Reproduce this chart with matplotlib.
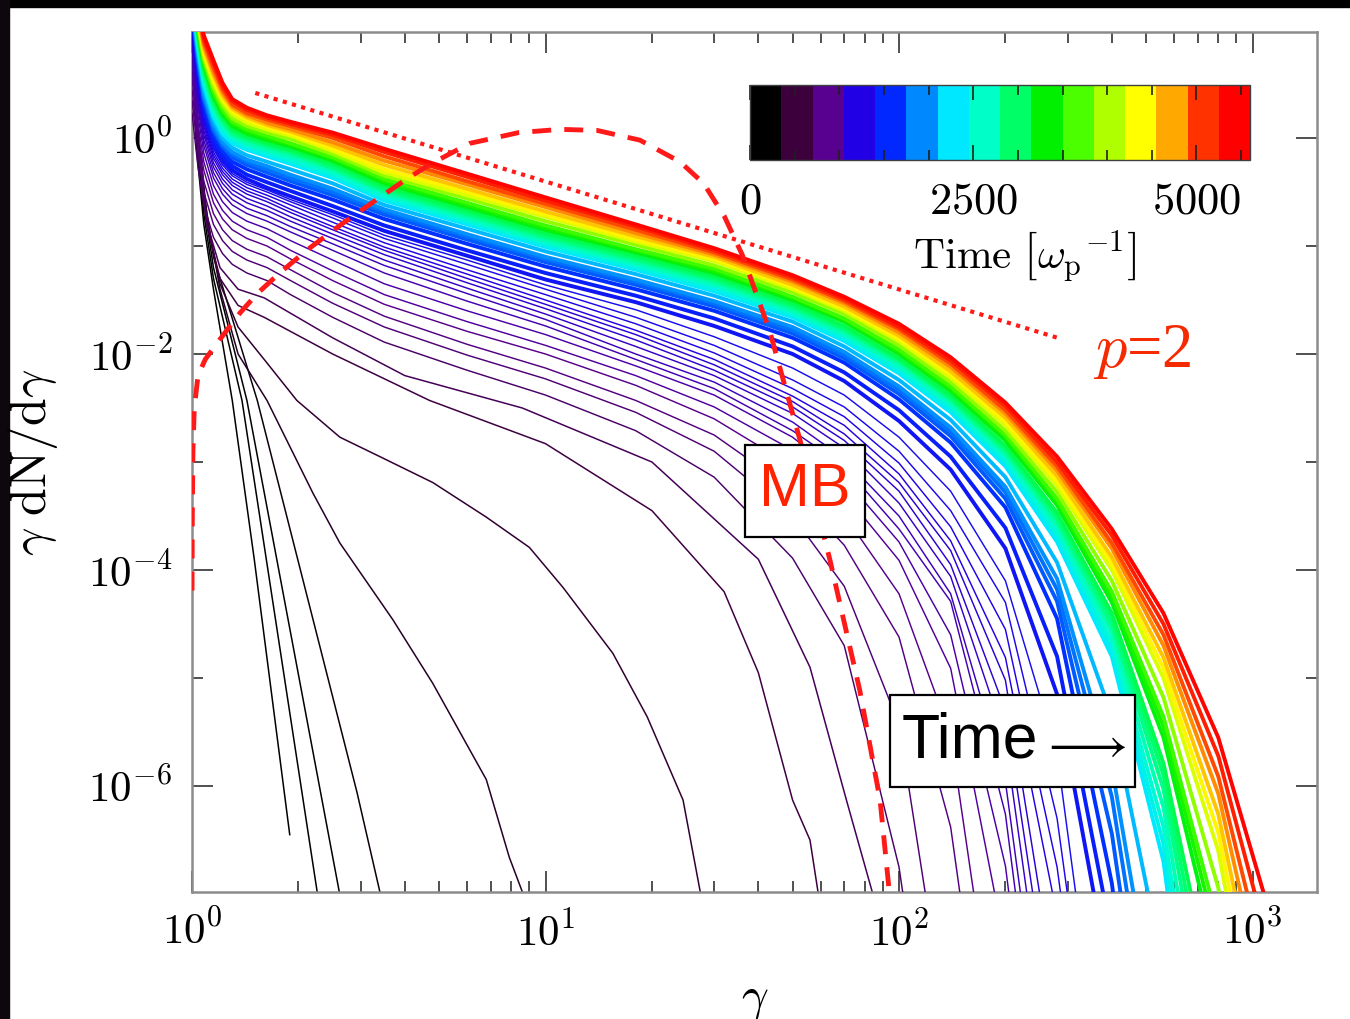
import numpy as np
import matplotlib.pyplot as plt
from matplotlib.colors import ListedColormap, LinearSegmentedColormap, BoundaryNorm
from matplotlib.cm import ScalarMappable
from matplotlib.patches import Rectangle
import matplotlib.ticker as mticker

plt.rcParams['mathtext.fontset'] = 'cm'
plt.rcParams['font.family'] = ['DejaVu Serif']

nan = np.nan

# colour table (16 levels over the simulation time)
BAND_COLORS = ['#000000', '#3c003c', '#580090', '#2200e6', '#0028ff', '#0088ff',
               '#00e8ff', '#00ffc8', '#00ff66', '#00f000', '#4cff00', '#b0ff00',
               '#ffff00', '#ffa800', '#ff3200', '#ff0000']
T_MAX = 5600

# spectra after the first ~700 plasma times, sampled on one gamma grid:
# log10(gamma dN/dgamma), nan where a spectrum has left the plot
LATE_GAMMA = [1.0, 1.04, 1.08, 1.15, 1.22, 1.3, 1.43, 1.63, 1.9, 2.5, 3.5, 6, 10,
              18, 30, 50, 70, 100, 140, 200, 280, 400, 560, 800, 1100, 1500]
LATE_TIMES = [720, 770, 820, 870, 920, 970, 1020, 1060, 1100, 1140, 1180, 1220, 1260,
              1300, 1340, 1400, 1500, 1600, 1750, 1850, 1950, 2100, 2280, 2420, 2550,
              2700, 2850, 2950, 3050, 3260, 3430, 3600, 3900, 4220, 4400, 4600, 4800,
              5000, 5200, 5400]
LATE_LOGY = [
    [0.23, -0.27, -0.62, -0.92, -1.07, -1.17, -1.25, -1.32, -1.45, -1.66, -1.89, -2.15, -2.38,
     -2.71, -3.14, -3.89, -4.70, -6.75, -10, nan, nan, nan, nan, nan, nan, nan],
    [0.35, -0.15, -0.50, -0.80, -0.95, -1.05, -1.13, -1.20, -1.32, -1.53, -1.75, -2.01, -2.23,
     -2.54, -2.90, -3.50, -4.15, -5.43, -8.5, nan, nan, nan, nan, nan, nan, nan],
    [0.45, -0.05, -0.40, -0.70, -0.85, -0.95, -1.03, -1.10, -1.22, -1.43, -1.65, -1.91, -2.13,
     -2.43, -2.75, -3.26, -3.77, -4.62, -6.38, -10, nan, nan, nan, nan, nan, nan],
    [0.55, 0.05, -0.30, -0.60, -0.75, -0.85, -0.93, -1.00, -1.12, -1.32, -1.54, -1.79, -2.00,
     -2.29, -2.60, -3.04, -3.49, -4.22, -5.53, -9.0, nan, nan, nan, nan, nan, nan],
    [0.63, 0.13, -0.22, -0.52, -0.67, -0.77, -0.85, -0.92, -1.04, -1.23, -1.45, -1.70, -1.92,
     -2.20, -2.49, -2.89, -3.29, -3.91, -4.91, -7.5, -11, nan, nan, nan, nan, nan],
    [0.71, 0.21, -0.14, -0.44, -0.59, -0.69, -0.77, -0.84, -0.95, -1.13, -1.35, -1.60, -1.82,
     -2.11, -2.38, -2.77, -3.15, -3.74, -4.60, -6.74, -10.5, nan, nan, nan, nan, nan],
    [0.78, 0.28, -0.07, -0.37, -0.52, -0.62, -0.70, -0.77, -0.87, -1.04, -1.25, -1.51, -1.74,
     -2.05, -2.32, -2.71, -3.04, -3.62, -4.29, -6.26, -10, nan, nan, nan, nan, nan],
    [0.83, 0.33, -0.02, -0.32, -0.47, -0.57, -0.65, -0.72, -0.82, -0.98, -1.18, -1.44, -1.68,
     -2.00, -2.26, -2.63, -2.97, -3.50, -4.22, -5.96, -9.5, nan, nan, nan, nan, nan],
    [0.88, 0.38, 0.03, -0.27, -0.42, -0.52, -0.60, -0.67, -0.77, -0.93, -1.13, -1.39, -1.63,
     -1.93, -2.20, -2.55, -2.87, -3.38, -4.06, -5.57, -9.0, nan, nan, nan, nan, nan],
    [0.92, 0.42, 0.07, -0.23, -0.38, -0.48, -0.56, -0.63, -0.73, -0.89, -1.08, -1.34, -1.58,
     -1.87, -2.15, -2.49, -2.80, -3.27, -3.95, -5.30, -8.5, nan, nan, nan, nan, nan],
    [0.96, 0.46, 0.11, -0.19, -0.34, -0.44, -0.52, -0.59, -0.69, -0.85, -1.04, -1.30, -1.54,
     -1.82, -2.10, -2.44, -2.74, -3.19, -3.82, -5.02, -8.0, nan, nan, nan, nan, nan],
    [0.99, 0.49, 0.14, -0.16, -0.31, -0.41, -0.49, -0.56, -0.66, -0.82, -1.01, -1.26, -1.50,
     -1.78, -2.05, -2.39, -2.66, -3.11, -3.73, -4.81, -7.2, -11, nan, nan, nan, nan],
    [1.02, 0.52, 0.17, -0.13, -0.28, -0.38, -0.46, -0.53, -0.62, -0.78, -0.97, -1.22, -1.45,
     -1.72, -1.99, -2.32, -2.58, -3.01, -3.60, -4.55, -6.75, -10.5, nan, nan, nan, nan],
    [1.05, 0.55, 0.20, -0.10, -0.25, -0.35, -0.43, -0.50, -0.59, -0.74, -0.93, -1.17, -1.40,
     -1.66, -1.92, -2.24, -2.49, -2.90, -3.45, -4.30, -6.30, -10, nan, nan, nan, nan],
    [1.08, 0.57, 0.22, -0.08, -0.23, -0.33, -0.41, -0.48, -0.57, -0.71, -0.90, -1.13, -1.36,
     -1.59, -1.84, -2.13, -2.38, -2.77, -3.27, -4.10, -5.70, -9.5, nan, nan, nan, nan],
    # 1400
    [1.15, 0.62, 0.25, -0.05, -0.20, -0.30, -0.38, -0.46, -0.54, -0.68, -0.86, -1.09, -1.31,
     -1.52, -1.74, -2.00, -2.25, -2.62, -3.07, -3.80, -5.15, -7.90, nan, nan, nan, nan],
    [1.18, 0.65, 0.29, -0.01, -0.16, -0.26, -0.34, -0.41, -0.49, -0.63, -0.81, -1.04, -1.25,
     -1.46, -1.67, -1.93, -2.17, -2.52, -2.95, -3.61, -4.80, -7.40, -11, nan, nan, nan],
    [1.20, 0.68, 0.32, 0.03, -0.12, -0.22, -0.29, -0.36, -0.44, -0.57, -0.75, -0.98, -1.19,
     -1.40, -1.60, -1.85, -2.08, -2.42, -2.82, -3.42, -4.45, -6.90, -10.5, nan, nan, nan],
    [1.22, 0.72, 0.36, 0.07, -0.08, -0.18, -0.25, -0.32, -0.40, -0.53, -0.71, -0.94, -1.15,
     -1.36, -1.56, -1.81, -2.04, -2.37, -2.76, -3.34, -4.29, -6.44, -9.7, nan, nan, nan],
    [1.23, 0.74, 0.38, 0.09, -0.06, -0.15, -0.22, -0.29, -0.37, -0.50, -0.68, -0.91, -1.12,
     -1.33, -1.53, -1.78, -2.01, -2.33, -2.72, -3.28, -4.18, -6.10, -9.1, nan, nan, nan],
    [1.25, 0.76, 0.41, 0.12, -0.04, -0.13, -0.20, -0.26, -0.34, -0.47, -0.66, -0.89, -1.10,
     -1.31, -1.51, -1.75, -1.98, -2.30, -2.68, -3.23, -4.08, -5.83, -8.6, nan, nan, nan],
    [1.27, 0.80, 0.45, 0.16, 0.00, -0.09, -0.16, -0.22, -0.29, -0.42, -0.62, -0.84, -1.05,
     -1.26, -1.46, -1.70, -1.93, -2.24, -2.61, -3.14, -3.93, -5.35, -7.7, -11, nan, nan],
    [1.30, 0.84, 0.50, 0.20, 0.04, -0.05, -0.11, -0.17, -0.24, -0.37, -0.58, -0.80, -1.01,
     -1.22, -1.42, -1.66, -1.88, -2.18, -2.54, -3.04, -3.74, -4.80, -6.70, -10.5, nan, nan],
    [1.31, 0.86, 0.52, 0.22, 0.06, -0.03, -0.09, -0.15, -0.22, -0.35, -0.56, -0.78, -0.99,
     -1.20, -1.40, -1.64, -1.86, -2.16, -2.51, -3.00, -3.69, -4.73, -6.54, -10, nan, nan],
    [1.33, 0.88, 0.55, 0.25, 0.09, 0.00, -0.07, -0.13, -0.20, -0.33, -0.54, -0.76, -0.97,
     -1.18, -1.37, -1.62, -1.83, -2.13, -2.48, -2.97, -3.64, -4.66, -6.38, -9.7, nan, nan],
    [1.35, 0.90, 0.57, 0.28, 0.12, 0.02, -0.05, -0.11, -0.17, -0.30, -0.51, -0.74, -0.95,
     -1.16, -1.35, -1.60, -1.81, -2.10, -2.45, -2.93, -3.59, -4.58, -6.20, -9.2, nan, nan],
    [1.36, 0.93, 0.60, 0.31, 0.15, 0.04, -0.02, -0.08, -0.14, -0.28, -0.49, -0.71, -0.92,
     -1.13, -1.32, -1.57, -1.78, -2.07, -2.42, -2.90, -3.54, -4.51, -6.03, -8.8, nan, nan],
    [1.37, 0.95, 0.62, 0.33, 0.17, 0.06, 0.00, -0.06, -0.12, -0.26, -0.47, -0.69, -0.90,
     -1.11, -1.30, -1.55, -1.76, -2.05, -2.40, -2.87, -3.50, -4.45, -5.90, -8.5, nan, nan],
    [1.38, 0.97, 0.65, 0.36, 0.19, 0.08, 0.01, -0.05, -0.11, -0.24, -0.45, -0.67, -0.88,
     -1.09, -1.28, -1.53, -1.74, -2.04, -2.38, -2.85, -3.47, -4.40, -5.79, -8.2, nan, nan],
    [1.40, 1.00, 0.68, 0.39, 0.22, 0.11, 0.04, -0.02, -0.08, -0.21, -0.42, -0.64, -0.85,
     -1.06, -1.25, -1.50, -1.70, -2.00, -2.34, -2.80, -3.40, -4.30, -5.55, -7.65, -11, nan],
    [1.41, 1.02, 0.70, 0.41, 0.24, 0.13, 0.06, 0.00, -0.06, -0.19, -0.40, -0.62, -0.83,
     -1.04, -1.23, -1.48, -1.68, -1.98, -2.32, -2.77, -3.37, -4.25, -5.45, -7.45, -10.6, nan],
    [1.42, 1.03, 0.71, 0.43, 0.26, 0.15, 0.08, 0.02, -0.05, -0.18, -0.38, -0.60, -0.81,
     -1.03, -1.21, -1.47, -1.67, -1.96, -2.30, -2.75, -3.34, -4.20, -5.36, -7.28, -10.3, nan],
    [1.45, 1.05, 0.74, 0.47, 0.30, 0.18, 0.11, 0.05, -0.01, -0.15, -0.35, -0.56, -0.77,
     -0.99, -1.18, -1.43, -1.63, -1.92, -2.26, -2.71, -3.28, -4.10, -5.18, -6.94, -9.7, nan],
    [1.47, 1.08, 0.77, 0.51, 0.34, 0.22, 0.14, 0.08, 0.02, -0.12, -0.32, -0.53, -0.73,
     -0.96, -1.14, -1.40, -1.60, -1.88, -2.22, -2.66, -3.22, -4.00, -5.00, -6.60, -9.0, nan],
    [1.49, 1.11, 0.80, 0.55, 0.37, 0.25, 0.17, 0.10, 0.04, -0.10, -0.29, -0.50, -0.71,
     -0.94, -1.12, -1.38, -1.58, -1.86, -2.19, -2.63, -3.18, -3.94, -4.91, -6.43, -8.7, nan],
    [1.51, 1.14, 0.83, 0.58, 0.39, 0.27, 0.19, 0.12, 0.06, -0.07, -0.25, -0.47, -0.68,
     -0.91, -1.10, -1.36, -1.56, -1.83, -2.16, -2.59, -3.13, -3.88, -4.81, -6.26, -8.4, nan],
    [1.53, 1.16, 0.86, 0.61, 0.42, 0.29, 0.21, 0.14, 0.08, -0.04, -0.21, -0.43, -0.64,
     -0.88, -1.08, -1.33, -1.53, -1.80, -2.12, -2.55, -3.08, -3.80, -4.70, -6.07, -8.07, nan],
    [1.56, 1.19, 0.89, 0.65, 0.45, 0.31, 0.23, 0.17, 0.11, 0.00, -0.17, -0.40, -0.61,
     -0.85, -1.06, -1.31, -1.51, -1.77, -2.09, -2.52, -3.04, -3.75, -4.60, -5.91, -7.74, nan],
    [1.58, 1.22, 0.92, 0.69, 0.48, 0.34, 0.26, 0.19, 0.13, 0.03, -0.13, -0.36, -0.58,
     -0.82, -1.04, -1.29, -1.49, -1.75, -2.06, -2.48, -3.00, -3.68, -4.50, -5.72, -7.42, -9.0],
    [1.60, 1.25, 0.95, 0.72, 0.51, 0.36, 0.28, 0.21, 0.15, 0.05, -0.10, -0.33, -0.55,
     -0.80, -1.02, -1.27, -1.47, -1.72, -2.03, -2.45, -2.95, -3.62, -4.40, -5.55, -7.10, -9.0],
]

# the first spectra, each sampled on its own gamma points
EARLY_TIMES = [60, 120, 180, 260, 400, 480, 560, 640]
EARLY_GAMMA = [
    [1.0, 1.03, 1.08, 1.15, 1.3, 1.5, 1.89],
    [1.0, 1.03, 1.08, 1.15, 1.385, 2.26, 2.5],
    [1.0, 1.03, 1.08, 1.15, 1.43, 2.61, 2.9],
    [1.0, 1.03, 1.08, 1.15, 1.53, 2.93, 3.4, 3.8],
    [1.0, 1.04, 1.1, 1.2, 1.35, 1.63, 2.2, 2.62, 3.7, 4.8, 6.8, 7.9, 8.6, 9.5],
    [1.0, 1.04, 1.1, 1.2, 1.35, 1.6, 1.98, 2.62, 3.4, 4.8, 6.8, 9.0, 11.2, 15.5, 19.4, 24.5, 27.4, 30],
    [1.0, 1.04, 1.1, 1.2, 1.35, 1.6, 2.5, 4.7, 10, 20, 32, 40, 50, 56, 59, 64],
    [1.0, 1.04, 1.1, 1.2, 1.35, 1.6, 2.5, 4.0, 8.6, 20, 40, 56, 71, 84, 90],
]
EARLY_LOGY = [
    [1.0, -0.1, -0.8, -1.4, -2.43, -3.9, -6.45],
    [1.0, 0.0, -0.7, -1.3, -2.43, -6.98, -7.92],
    [1.0, 0.05, -0.6, -1.2, -2.43, -6.98, -7.8],
    [1.0, 0.1, -0.5, -1.1, -2.43, -6.06, -6.98, -7.6],
    [0.9, 0.1, -0.7, -1.4, -2.0, -2.43, -3.29, -3.75, -4.46, -5.05, -5.94, -6.66, -6.98, -7.5],
    [0.85, 0.05, -0.75, -1.35, -1.75, -2.05, -2.43, -2.77, -2.95, -3.19, -3.51, -3.79, -4.16, -4.77, -5.36, -6.13, -6.98, -7.6],
    [0.8, 0.0, -0.8, -1.3, -1.55, -1.66, -2.0, -2.43, -2.83, -3.45, -4.2, -4.95, -6.13, -6.5, -6.98, -7.8],
    [0.75, -0.05, -0.78, -1.2, -1.4, -1.48, -1.85, -2.2, -2.5, -3.0, -3.9, -4.9, -6.13, -6.98, -7.6],
]

# Maxwell-Boltzmann reference curve
MB_GAMMA = [1.0002, 1.002, 1.006, 1.015, 1.04, 1.09, 1.177, 1.367, 1.53, 1.77, 2.11, 2.67,
            3.33, 4.13, 4.8, 6.1, 8.4, 11.0, 14.0, 18.5, 24.0, 28.0, 32.0, 36.0, 43.0,
            52.5, 63.8, 77.4, 88.4, 94.0]
MB_LOGY = [-4.19, -3.5, -2.9, -2.5, -2.2, -2.05, -1.9, -1.62, -1.44, -1.25, -1.04, -0.79,
           -0.57, -0.36, -0.23, -0.05, 0.05, 0.08, 0.07, -0.02, -0.22, -0.42, -0.72, -1.08,
           -1.78, -2.8, -3.91, -5.11, -6.13, -7.0]

# p = 2 power law guide
PL_GAMMA = [1.51, 281]
PL_LOGY = [0.417, -1.85]

stops = ([(0.0, BAND_COLORS[0])]
         + [((i + 0.5) / 16, c) for i, c in enumerate(BAND_COLORS)]
         + [(1.0, BAND_COLORS[-1])])
line_cmap = LinearSegmentedColormap.from_list('time', stops)

fig = plt.figure(figsize=(13.5, 10.19), dpi=100)
fig.add_artist(Rectangle((0, 1 - 7 / 1019), 1, 7 / 1019, transform=fig.transFigure,
                         color='black', zorder=-5))
fig.add_artist(Rectangle((0, 0), 9 / 1350, 1, transform=fig.transFigure,
                         color='#0e070e', zorder=-5))

ax = fig.add_axes([192 / 1350, 1 - 892 / 1019, 1125 / 1350, 860 / 1019])
ax.set_xscale('log')
ax.set_yscale('log')

for t, g, ly in zip(EARLY_TIMES, EARLY_GAMMA, EARLY_LOGY):
    ax.plot(g, 10 ** np.asarray(ly), color=line_cmap(t / T_MAX), lw=1.1, zorder=2)

lg = np.asarray(LATE_GAMMA)
for t, ly in zip(LATE_TIMES, LATE_LOGY):
    ly = np.asarray(ly, dtype=float)
    ok = np.isfinite(ly)
    lw = 1.05 if t < 1400 else 2.8
    ax.plot(lg[ok], 10 ** ly[ok], color=line_cmap(t / T_MAX), lw=lw, zorder=3,
            solid_joinstyle='round')

ax.plot(MB_GAMMA, 10 ** np.asarray(MB_LOGY), color='#ff1a1a', lw=3.5,
        ls=(0, (3.9, 2.7)), zorder=6)
ax.plot(PL_GAMMA, 10 ** np.asarray(PL_LOGY), color='#ff1a1a', lw=3.0,
        ls=(0, (1.0, 1.3)), zorder=6)

ax.set_xlim(1, 1522)
ax.set_ylim(1.045e-7, 9.58)

ax.xaxis.set_major_locator(mticker.FixedLocator([1, 10, 100, 1000]))
ax.xaxis.set_major_formatter(mticker.FixedFormatter([r'$10^{0}$', r'$10^{1}$', r'$10^{2}$', r'$10^{3}$']))
ax.xaxis.set_minor_locator(mticker.LogLocator(base=10, subs=np.arange(2, 10)))
ax.xaxis.set_minor_formatter(mticker.NullFormatter())
ax.yaxis.set_major_locator(mticker.FixedLocator([1e0, 1e-2, 1e-4, 1e-6]))
ax.yaxis.set_major_formatter(mticker.FixedFormatter([r'$10^{0}$', r'$10^{-2}$', r'$10^{-4}$', r'$10^{-6}$']))
ax.yaxis.set_minor_locator(mticker.FixedLocator([1e1, 1e-1, 1e-3, 1e-5, 1e-7]))
ax.yaxis.set_minor_formatter(mticker.NullFormatter())

ax.tick_params(which='both', direction='in', top=True, right=True, color='#505050', width=1.4)
ax.tick_params(which='major', length=15, labelsize=31, pad=14)
ax.tick_params(which='minor', length=8)
for s in ax.spines.values():
    s.set_color('#8c8c8c')
    s.set_linewidth(1.8)

ax.set_xlabel(r'$\gamma$', fontsize=34)
ax.xaxis.set_label_coords(0.5, -0.098)
ax.set_ylabel(r'$\gamma\ \mathrm{dN/d}\gamma$', fontsize=36)
ax.yaxis.set_label_coords(-0.117, 0.5)

# annotation boxes
sans = ['Liberation Sans', 'DejaVu Sans']
fig.add_artist(Rectangle((745 / 1350, 1 - 537 / 1019), 120 / 1350, 92 / 1019,
                         transform=fig.transFigure, fc='white', ec='black', lw=1.6, zorder=10))
fig.text(805 / 1350, 1 - 491 / 1019, 'MB', fontsize=44, color='#ff2200', family=sans,
         ha='center', va='center', zorder=11)
fig.add_artist(Rectangle((890 / 1350, 1 - 787 / 1019), 245 / 1350, 92 / 1019,
                         transform=fig.transFigure, fc='white', ec='black', lw=1.6, zorder=10))
fig.text(902 / 1350, 1 - 741 / 1019, 'Time', fontsize=45, color='black', family=sans,
         ha='left', va='center', zorder=11)
fig.text(1083 / 1350, 1 - 745 / 1019, r'$\longrightarrow$', fontsize=36, color='black',
         ha='center', va='center', zorder=11)
fig.text(1142 / 1350, 1 - 352 / 1019, r'$p$=2', fontsize=45, color='#f52a00',
         family=['Liberation Serif'], ha='center', va='center', zorder=10)

# time colour bar
cax = fig.add_axes([750 / 1350, 1 - 160 / 1019, 500 / 1350, 75 / 1019])
sm = ScalarMappable(norm=BoundaryNorm(np.linspace(0, T_MAX, 17), 16),
                    cmap=ListedColormap(BAND_COLORS))
cb = fig.colorbar(sm, cax=cax, orientation='horizontal')
cb.outline.set_edgecolor('#404040')
cb.outline.set_linewidth(1.0)
cb.set_ticks([0, 2500, 5000])
cb.set_ticklabels([r'$0$', r'$2500$', r'$5000$'])
cax.xaxis.set_minor_locator(mticker.FixedLocator(np.arange(500, 5600, 500)))
cax.tick_params(which='both', direction='in', top=True, bottom=True, color='#202020', width=1.2)
cax.tick_params(which='major', length=11, labelsize=32, pad=14)
cax.tick_params(which='minor', length=7)
cb.set_label(r'$\mathrm{Time}\ \left[\omega_{\mathrm{p}}{}^{-1}\right]$', fontsize=31)
cax.xaxis.set_label_coords(0.55, -0.92)

fig.savefig('out.png', dpi=100)
